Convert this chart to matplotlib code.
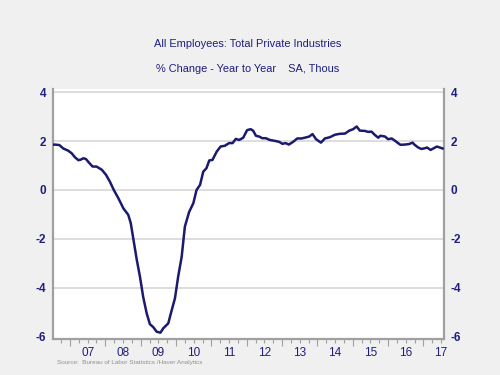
import numpy as np
import matplotlib
matplotlib.use('Agg')
import matplotlib.pyplot as plt

# Year-over-year % change, total private employment
dates = [2006.52, 2006.57, 2006.70, 2006.81, 2006.95, 2007.05, 2007.14, 2007.24, 2007.30,
         2007.38, 2007.45, 2007.55, 2007.64, 2007.75, 2007.90, 2008.02, 2008.13, 2008.24,
         2008.37, 2008.51, 2008.65, 2008.72, 2008.79, 2008.89, 2008.98, 2009.07, 2009.17,
         2009.26, 2009.36, 2009.45, 2009.56, 2009.64, 2009.78, 2009.88, 2009.97, 2010.06,
         2010.16, 2010.25, 2010.37, 2010.49, 2010.58, 2010.68, 2010.77, 2010.86, 2010.94,
         2011.03, 2011.15, 2011.26, 2011.38, 2011.50, 2011.60, 2011.69, 2011.79, 2011.90,
         2012.01, 2012.11, 2012.18, 2012.26, 2012.35, 2012.44, 2012.54, 2012.65, 2012.80,
         2012.92, 2013.01, 2013.10, 2013.19, 2013.31, 2013.43, 2013.55, 2013.64, 2013.77,
         2013.86, 2013.96, 2014.10, 2014.21, 2014.35, 2014.49, 2014.63, 2014.78, 2014.90,
         2015.01, 2015.11, 2015.20, 2015.34, 2015.43, 2015.53, 2015.62, 2015.72, 2015.78,
         2015.91, 2016.00, 2016.10, 2016.19, 2016.28, 2016.35, 2016.47, 2016.59, 2016.69,
         2016.75, 2016.85, 2016.94, 2017.04, 2017.10, 2017.20, 2017.29, 2017.38, 2017.48,
         2017.54]
pct_change = [1.85, 1.86, 1.84, 1.70, 1.61, 1.50, 1.34, 1.22, 1.24,
              1.30, 1.27, 1.10, 0.96, 0.96, 0.83, 0.62, 0.34, 0.00,
              -0.34, -0.75, -1.02, -1.36, -1.98, -2.86, -3.55, -4.37, -5.05,
              -5.49, -5.62, -5.80, -5.84, -5.66, -5.46, -4.91, -4.43, -3.55,
              -2.73, -1.50, -0.90, -0.54, 0.00, 0.21, 0.75, 0.89, 1.21,
              1.23, 1.57, 1.78, 1.81, 1.92, 1.92, 2.09, 2.05, 2.14,
              2.45, 2.49, 2.43, 2.22, 2.19, 2.12, 2.12, 2.05, 2.01,
              1.97, 1.89, 1.92, 1.86, 1.97, 2.11, 2.11, 2.14, 2.19,
              2.29, 2.08, 1.94, 2.11, 2.16, 2.26, 2.30, 2.31, 2.43,
              2.49, 2.60, 2.43, 2.42, 2.38, 2.39, 2.26, 2.14, 2.22,
              2.19, 2.08, 2.11, 2.02, 1.92, 1.85, 1.86, 1.88, 1.94,
              1.85, 1.74, 1.68, 1.71, 1.74, 1.64, 1.71, 1.78, 1.73,
              1.70]

year_ticks = list(range(2007, 2018))
year_labels = ['07', '08', '09', '10', '11', '12', '13', '14', '15', '16', '17']
y_ticks = [-6, -4, -2, 0, 2, 4]

navy = '#1e1e80'
bg = '#f0f0f0'
spine_gray = '#a0a0a0'

plt.rcParams['font.family'] = ['Liberation Sans', 'DejaVu Sans']

fig = plt.figure(figsize=(5, 3.75), dpi=100, facecolor=bg)
ax = fig.add_axes([0.106, 0.096, 0.782, 0.667])
ax.set_facecolor('white')

for y in y_ticks[1:]:
    ax.axhline(y, color='#dadada', lw=1.3, zorder=1)

ax.plot(dates, pct_change, color='#1a1a6e', lw=1.8, zorder=3)

ax.set_xlim(2006.52, 2017.58)
ax.set_ylim(-6.1, 4.14)

ax.spines['top'].set_visible(False)
for s in ['left', 'right', 'bottom']:
    ax.spines[s].set_color(spine_gray)
    ax.spines[s].set_linewidth(1.6)

ax.set_yticks(y_ticks)
ax.set_yticklabels([str(v) for v in y_ticks])
ax.tick_params(axis='y', length=0, labelright=True, labelleft=True,
               labelcolor=navy, labelsize=8.5, pad=5)
for lbl in ax.get_yticklabels() + ax.get_yticklabels(which='both'):
    lbl.set_fontweight('bold')
for lbl in ax.yaxis.get_ticklabels(which='major'):
    lbl.set_fontweight('bold')

ax.set_xticks(year_ticks)
ax.set_xticks(np.arange(2006.75, 2017.6, 0.25), minor=True)
ax.tick_params(axis='x', which='major', length=5, width=0.8, color=spine_gray,
               labelbottom=False)
ax.tick_params(axis='x', which='minor', length=3, width=0.8, color=spine_gray)

sec = ax.secondary_xaxis('bottom')
sec.set_xticks([y + 0.5 for y in year_ticks[:-1]] + [2017.5])
sec.set_xticklabels(year_labels)
sec.tick_params(length=0, labelcolor=navy, labelsize=8.5, pad=5.5)
sec.spines['bottom'].set_visible(False)

fig.text(0.496, 0.883, 'All Employees: Total Private Industries', ha='center',
         va='center', color=navy, fontsize=7.9)
fig.text(0.496, 0.816, '% Change - Year to Year    SA, Thous', ha='center',
         va='center', color=navy, fontsize=7.9)
fig.text(0.114, 0.034, 'Source:  Bureau of Labor Statistics /Haver Analytics',
         ha='left', va='center', color='#909090', fontsize=4.6)

fig.savefig('out.png', dpi=100, facecolor=bg)
